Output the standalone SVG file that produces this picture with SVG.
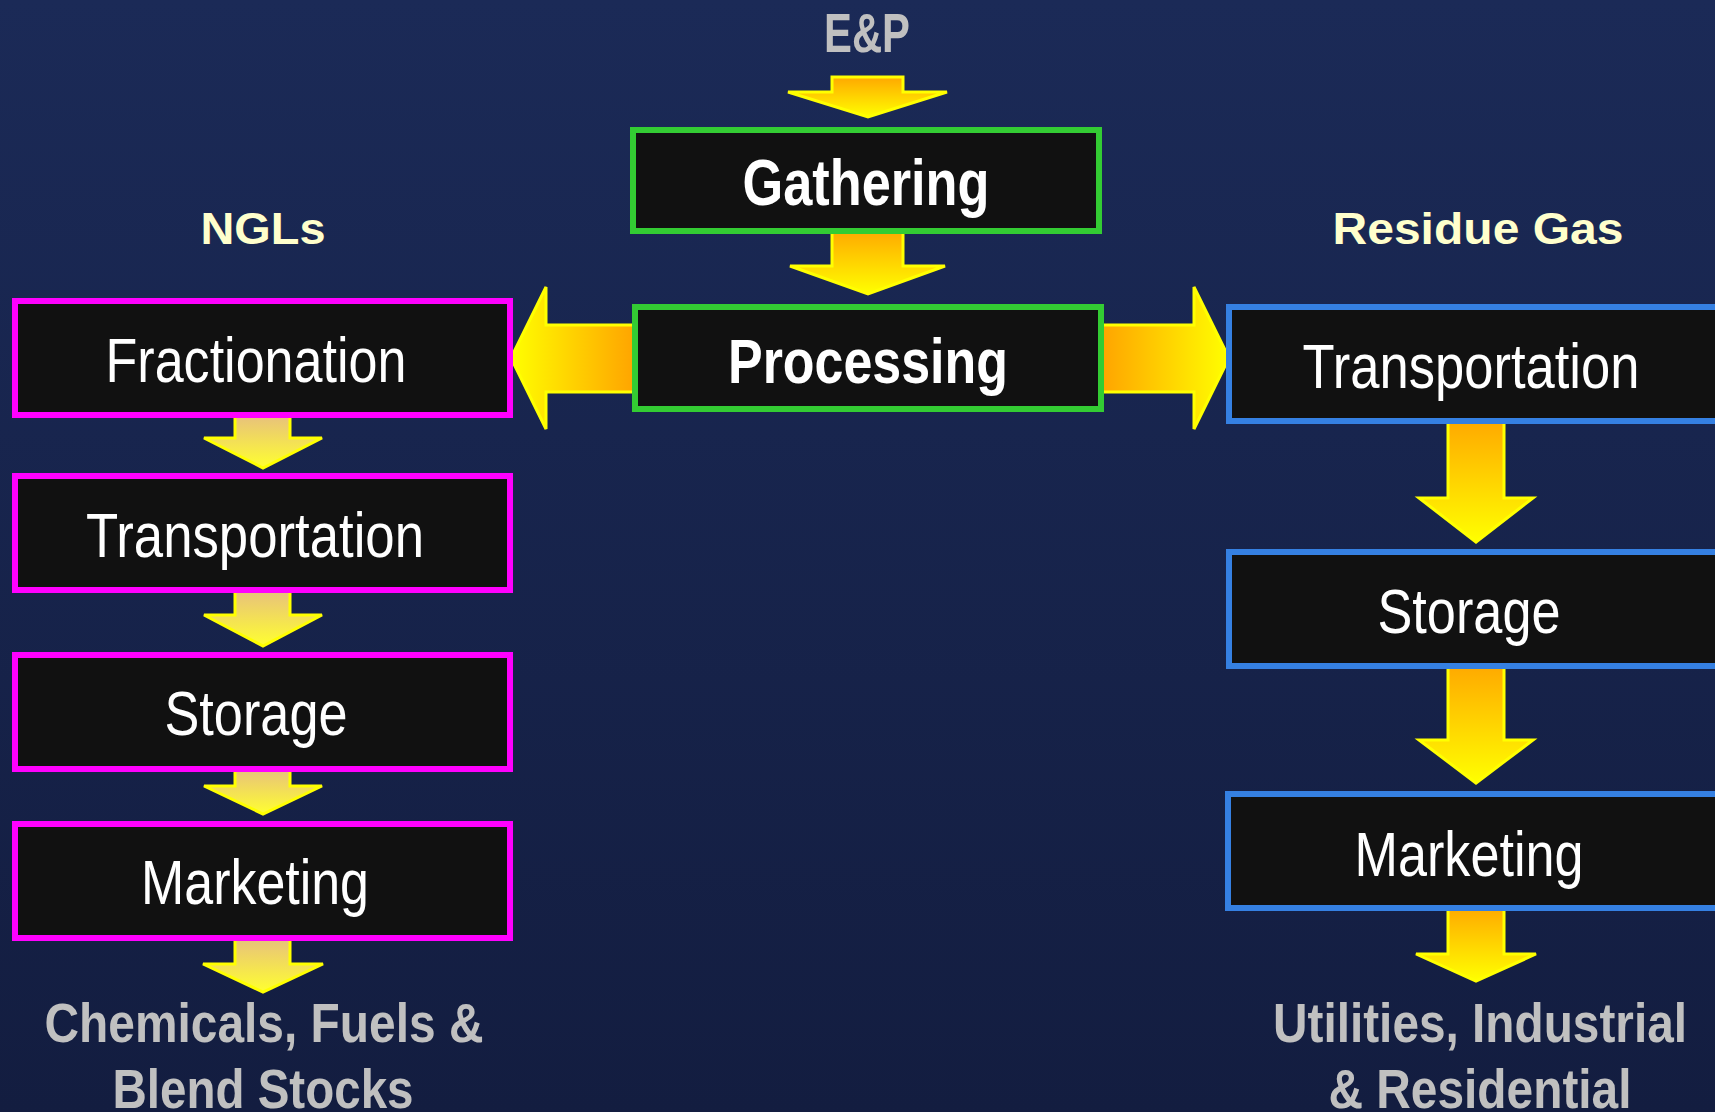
<svg xmlns="http://www.w3.org/2000/svg" width="1715" height="1112" viewBox="0 0 1715 1112">
  <defs>
    <linearGradient id="bg" x1="0" y1="0" x2="0" y2="1">
      <stop offset="0" stop-color="#1B2A57"/>
      <stop offset="1" stop-color="#131D40"/>
    </linearGradient>
    <!-- vertical flow arrows: orange at the tail, yellow at the head -->
    <linearGradient id="gDown" x1="0" y1="0" x2="0" y2="1">
      <stop offset="0" stop-color="#FFA800"/>
      <stop offset="1" stop-color="#FFFF00"/>
    </linearGradient>
    <linearGradient id="gDownSoft" x1="0" y1="0" x2="0" y2="1">
      <stop offset="0" stop-color="#E6BE80"/>
      <stop offset="1" stop-color="#FFFF30"/>
    </linearGradient>
    <linearGradient id="gLeft" x1="0" y1="0" x2="1" y2="0">
      <stop offset="0" stop-color="#FFFF00"/>
      <stop offset="1" stop-color="#FFA000"/>
    </linearGradient>
    <linearGradient id="gRight" x1="0" y1="0" x2="1" y2="0">
      <stop offset="0" stop-color="#FFA000"/>
      <stop offset="1" stop-color="#FFFF00"/>
    </linearGradient>
  </defs>
  <style>
    .arrow { stroke: #FFFF00; stroke-width: 3; stroke-linejoin: miter; }
    .box { fill: #111111; stroke-width: 6; }
    .core { stroke: #33CC33; }
    .ngl { stroke: #FF00FF; }
    .gas { stroke: #3580E2; }
    .label { font-family: "Liberation Sans", Arial, sans-serif; fill: #FFFFFF; text-anchor: middle; }
    .bold { font-weight: bold; }
    .reg { font-weight: normal; font-size: 63px; }
    .heading { font-family: "Liberation Sans", Arial, sans-serif; font-weight: bold; font-size: 45px; fill: #FFFFCC; text-anchor: middle; }
    .end { font-family: "Liberation Sans", Arial, sans-serif; font-weight: bold; font-size: 56px; fill: #C0C0C0; text-anchor: middle; }
  </style>

  <rect x="0" y="0" width="1715" height="1112" fill="url(#bg)"/>

  <!-- connectors -->
  <g id="connectors">
    <polygon class="arrow" fill="url(#gDown)" points="832,77 903,77 903,92 947,92 868,117 788,92 832,92"/>
    <polygon class="arrow" fill="url(#gDown)" points="832,230 903,230 903,266 945,266 868,294 790,266 832,266"/>
    <polygon class="arrow" fill="url(#gLeft)" points="511,358 546,287 546,325 640,325 640,392 546,392 546,429"/>
    <polygon class="arrow" fill="url(#gRight)" points="1096,325 1194,325 1194,287 1229,358 1194,429 1194,392 1096,392"/>

    <polygon class="arrow" fill="url(#gDownSoft)" points="235,413 290,413 290,438 322,438 263,468 204,438 235,438"/>
    <polygon class="arrow" fill="url(#gDownSoft)" points="235,588 290,588 290,615 322,615 263,646 204,615 235,615"/>
    <polygon class="arrow" fill="url(#gDownSoft)" points="235,767 290,767 290,786 322,786 263,814 204,786 235,786"/>
    <polygon class="arrow" fill="url(#gDownSoft)" points="235,936 290,936 290,964 323,964 263,992 203,964 235,964"/>

    <polygon class="arrow" fill="url(#gDown)" points="1448,419 1504,419 1504,498 1533,498 1476,542 1419,498 1448,498"/>
    <polygon class="arrow" fill="url(#gDown)" points="1448,664 1504,664 1504,740 1533,740 1476,783 1419,740 1448,740"/>
    <polygon class="arrow" fill="url(#gDown)" points="1448,906 1504,906 1504,954 1536,954 1476,981 1416,954 1448,954"/>
  </g>

  <!-- source and column headings -->
  <text id="ep" class="end" x="867" y="52" font-size="52" textLength="86" lengthAdjust="spacingAndGlyphs">E&amp;P</text>
  <text id="ngls" class="heading" x="263" y="244" textLength="125" lengthAdjust="spacingAndGlyphs">NGLs</text>
  <text id="residue-gas" class="heading" x="1478" y="244" textLength="291" lengthAdjust="spacingAndGlyphs">Residue Gas</text>

  <!-- central chain -->
  <g id="gathering">
    <rect class="box core" x="633" y="130" width="466" height="101"/>
    <text class="label bold" x="866" y="205" font-size="64" textLength="247" lengthAdjust="spacingAndGlyphs">Gathering</text>
  </g>
  <g id="processing">
    <rect class="box core" x="635" y="307" width="466" height="102"/>
    <text class="label bold" x="868" y="383" font-size="63" textLength="280" lengthAdjust="spacingAndGlyphs">Processing</text>
  </g>

  <!-- NGL chain -->
  <g id="fractionation">
    <rect class="box ngl" x="15" y="301" width="495" height="114"/>
    <text class="label reg" x="256" y="382" textLength="301" lengthAdjust="spacingAndGlyphs">Fractionation</text>
  </g>
  <g id="ngl-transportation">
    <rect class="box ngl" x="15" y="476" width="495" height="114"/>
    <text class="label reg" x="255" y="557" textLength="338" lengthAdjust="spacingAndGlyphs">Transportation</text>
  </g>
  <g id="ngl-storage">
    <rect class="box ngl" x="15" y="655" width="495" height="114"/>
    <text class="label reg" x="256" y="735" textLength="183" lengthAdjust="spacingAndGlyphs">Storage</text>
  </g>
  <g id="ngl-marketing">
    <rect class="box ngl" x="15" y="824" width="495" height="114"/>
    <text class="label reg" x="255" y="904" textLength="228" lengthAdjust="spacingAndGlyphs">Marketing</text>
  </g>
  <g id="ngl-end">
    <text class="end" x="264" y="1042" textLength="439" lengthAdjust="spacingAndGlyphs">Chemicals, Fuels &amp;</text>
    <text class="end" x="263" y="1108" textLength="301" lengthAdjust="spacingAndGlyphs">Blend Stocks</text>
  </g>

  <!-- residue gas chain -->
  <g id="gas-transportation">
    <rect class="box gas" x="1229" y="307" width="600" height="114"/>
    <text class="label reg" x="1471" y="388" textLength="337" lengthAdjust="spacingAndGlyphs">Transportation</text>
  </g>
  <g id="gas-storage">
    <rect class="box gas" x="1229" y="552" width="600" height="114"/>
    <text class="label reg" x="1469" y="633" textLength="183" lengthAdjust="spacingAndGlyphs">Storage</text>
  </g>
  <g id="gas-marketing">
    <rect class="box gas" x="1228" y="794" width="600" height="114"/>
    <text class="label reg" x="1469" y="876" textLength="229" lengthAdjust="spacingAndGlyphs">Marketing</text>
  </g>
  <g id="gas-end">
    <text class="end" x="1480" y="1042" textLength="414" lengthAdjust="spacingAndGlyphs">Utilities, Industrial</text>
    <text class="end" x="1480" y="1108" textLength="303" lengthAdjust="spacingAndGlyphs">&amp; Residential</text>
  </g>
</svg>
